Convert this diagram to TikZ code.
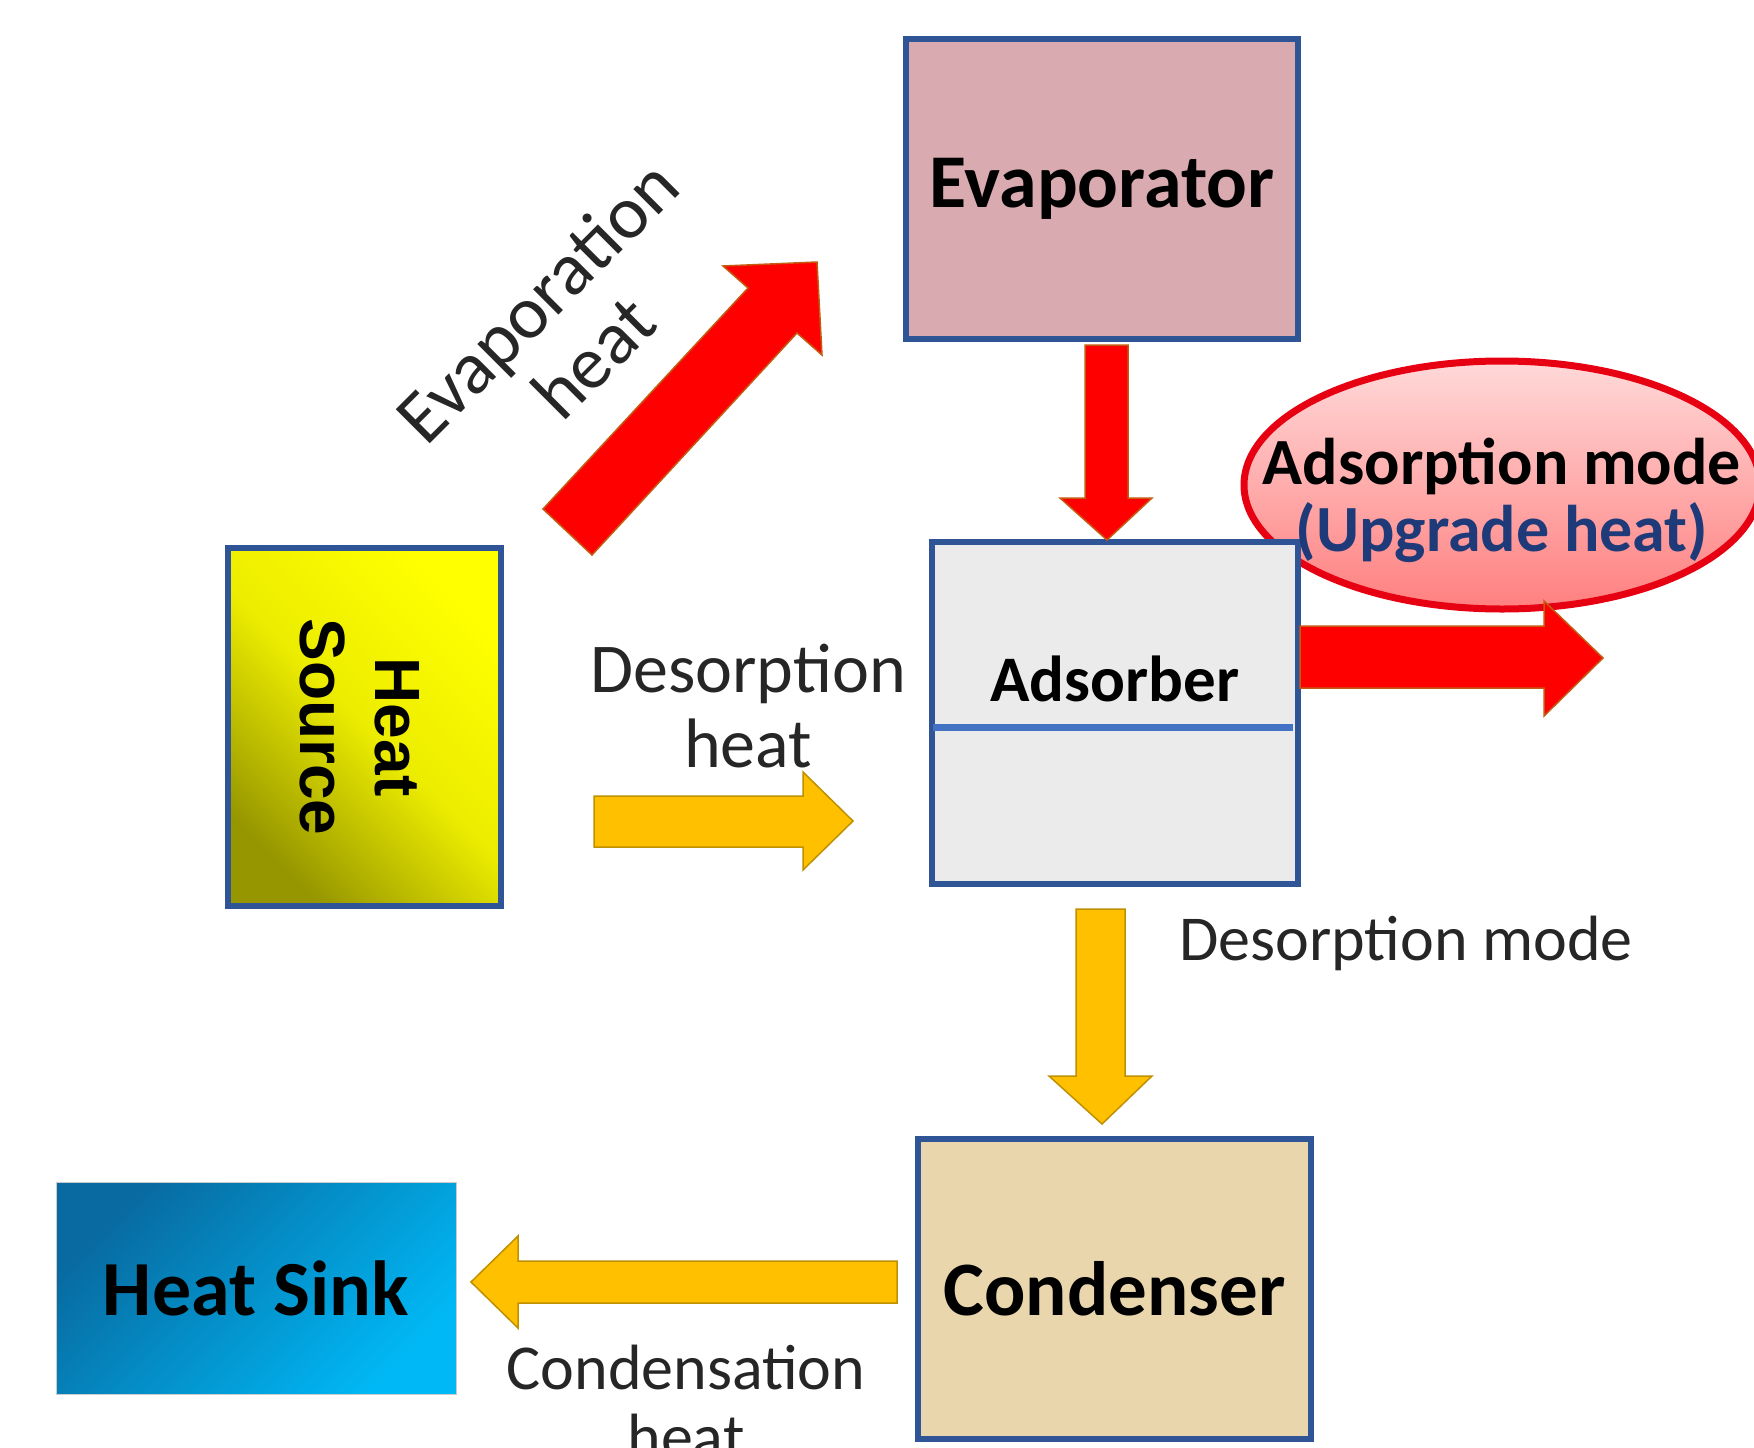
\documentclass[tikz,border=0pt]{standalone}
\usepackage{fontspec}
\setmainfont{Carlito}
\newfontfamily\arialfont{Liberation Sans}
\usetikzlibrary{shapes.geometric}
\definecolor{boxblue}{HTML}{2F5597}
\definecolor{divblue}{HTML}{4472C4}
\definecolor{evapfill}{HTML}{D9AAB0}
\definecolor{adsfill}{HTML}{EBEBEB}
\definecolor{condfill}{HTML}{E9D6AC}
\definecolor{redfill}{HTML}{FF0000}
\definecolor{redline}{HTML}{C55A11}
\definecolor{orfill}{HTML}{FFC000}
\definecolor{orline}{HTML}{BF9000}
\definecolor{navy}{HTML}{1F3A78}
\definecolor{ellred}{HTML}{E60012}
\definecolor{sinkdark}{RGB}{8,106,160}
\definecolor{sinklight}{RGB}{0,184,245}
\definecolor{srcdark}{RGB}{150,150,0}
\definecolor{srcmid}{RGB}{236,236,0}
\tikzset{
  unitbox/.style={draw=boxblue, line width=6pt, inner sep=0pt},
  redarrow/.style={fill=redfill, draw=redline, line width=1.5pt, line join=miter},
  orarrow/.style={fill=orfill, draw=orline, line width=1.5pt, line join=miter},
  boldlab/.style={font=\bfseries\fontsize{#1}{#1}\selectfont, text=black},
  lightlab/.style 2 args={font=\fontsize{#1}{#2}\selectfont, text=black!85, align=center},
}
\begin{document}
\begin{tikzpicture}[x=1pt,y=-1pt]
\useasboundingbox[fill=white] (0,0) rectangle (1754,1448);

% ellipse (behind adsorber)
\path[top color=red!15, bottom color=red!50!white, draw=ellred, line width=7pt]
  (1502,485) ellipse [x radius=258pt, y radius=124pt];

% boxes
\node[unitbox, fill=evapfill, minimum width=392pt, minimum height=300pt] (evap) at (1102,189) {};
\node[unitbox, fill=adsfill, minimum width=366pt, minimum height=342pt] (ads) at (1115,713) {};
\node[unitbox, left color=srcdark, right color=yellow, middle color=srcmid, shading angle=135,
      minimum width=273pt, minimum height=358pt] (src) at (364.5,727) {};
\node[draw=gray!40, line width=1pt, inner sep=0pt, left color=sinkdark,
      right color=sinklight, shading angle=45, minimum width=400pt, minimum height=212pt] (sink) at (256,1288) {};
\node[unitbox, fill=condfill, minimum width=393pt, minimum height=300pt] (cond) at (1114.5,1289) {};

\draw[divblue, line width=7pt] ([xshift=4pt]ads.west |- 0,727) coordinate (dl) -- ([xshift=-8pt]ads.east |- 0,727) coordinate (dr);

% arrows
\draw[redarrow] (543,509) -- (748,288) -- (723,266) -- (817,262) -- (822,355) -- (797,333) -- (592,555) -- cycle;
\draw[redarrow] (1085,345) -- (1128,345) -- (1128,498) -- (1152,498) -- (1107,540) -- (1060,498) -- (1085,498) -- cycle;
\draw[redarrow] (1300,626) -- (1544,626) -- (1544,601) -- (1603,658) -- (1544,716) -- (1544,688) -- (1300,688) -- cycle;
\draw[orarrow] (594,796) -- (803,796) -- (803,772) -- (853,821) -- (803,870) -- (803,847) -- (594,847) -- cycle;
\draw[orarrow] (1076,909) -- (1125,909) -- (1125,1076) -- (1152,1076) -- (1102,1124) -- (1049,1076) -- (1076,1076) -- cycle;
\draw[orarrow] (897,1261) -- (518,1261) -- (518,1236) -- (471,1282) -- (518,1328) -- (518,1303) -- (897,1303) -- cycle;

% labels
\node[boldlab=76] (evaplab) at (evap.center) {Evaporator};
\node[boldlab=65] (adslab) at (1115,679) {Adsorber};
\node[boldlab=77] (condlab) at (cond.center) {Condenser};
\node[boldlab=78] (sinklab) at (sink.center) {Heat Sink};
\node[rotate=-90, align=center, font=\arialfont\bfseries\fontsize{64}{75}\selectfont] (srclab) at (360,727) {Heat\\Source};
\node[rotate=45, lightlab={75}{80}] (evheat) at (565,329) {Evaporation\\heat};
\node[lightlab={70}{75}] (deheat) at (748,706) {Desorption\\heat};
\node[lightlab={64}{68}] (demode) at (1406,943) {Desorption mode};
\node[lightlab={64}{69}, anchor=north] (coheat) at (686,1342) {Condensation\\heat};
\node[boldlab=66, align=center] (admode) at (1502,466) {Adsorption mode};
\node[font=\bfseries\fontsize{66}{66}\selectfont, text=navy] (upg) at (1502,533) {(Upgrade heat)};
\end{tikzpicture}
\end{document}
